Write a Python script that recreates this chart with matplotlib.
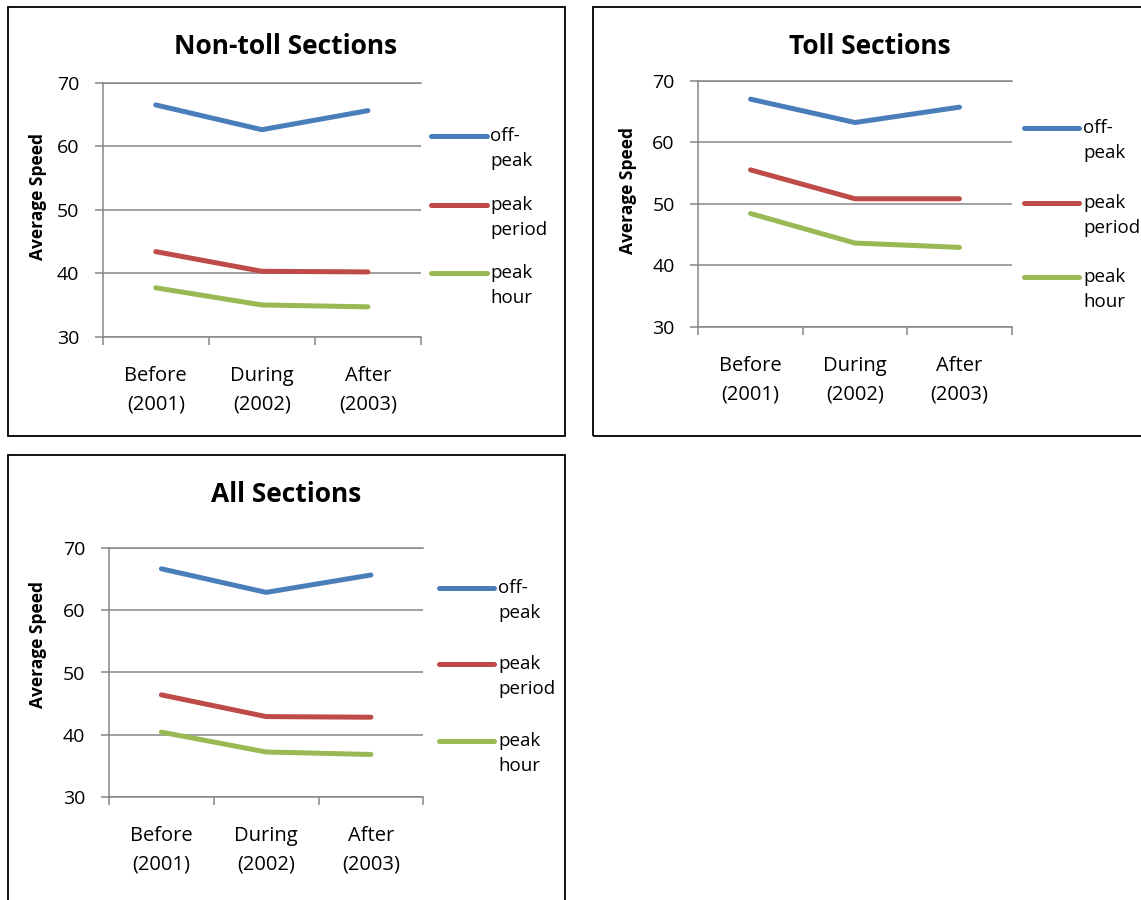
import matplotlib
matplotlib.use("Agg")
import matplotlib.pyplot as plt
from matplotlib.lines import Line2D
from matplotlib.patches import Rectangle

# chart data (average speed, mph)
periods = ["Before\n(2001)", "During\n(2002)", "After\n(2003)"]
series_names = ["off-\npeak", "peak\nperiod", "peak\nhour"]
series_colors = ["#4A7EBB", "#BE4B48", "#98B954"]
y_ticks = [30, 40, 50, 60, 70]

nontoll_offpeak = [66.5, 62.6, 65.6]
nontoll_peak_period = [43.4, 40.3, 40.2]
nontoll_peak_hour = [37.7, 35.0, 34.7]

toll_offpeak = [67.0, 63.2, 65.7]
toll_peak_period = [55.5, 50.8, 50.8]
toll_peak_hour = [48.4, 43.6, 42.9]

all_offpeak = [66.7, 62.9, 65.7]
all_peak_period = [46.4, 42.9, 42.8]
all_peak_hour = [40.4, 37.2, 36.8]

W, H = 1141, 900
GRAY = "#868686"
plt.rcParams['font.family'] = ['Open Sans', 'DejaVu Sans']


def fx(x):
    return x / W


def fy(y):
    return 1 - y / H


# layout in pixels: box, plot area, title, y label, legend
panels = [
    dict(title="Non-toll Sections",
         series=[nontoll_offpeak, nontoll_peak_period, nontoll_peak_hour],
         box=(7.5, 6.5, 565, 436), plot=(102.7, 82.7, 421, 336.7),
         title_xy=(286, 46), ylabel_xy=(38, 196),
         leg_x=(431, 487, 490), leg_y=(136, 205, 273)),
    dict(title="Toll Sections",
         series=[toll_offpeak, toll_peak_period, toll_peak_hour],
         box=(593, 6.5, 1160, 436), plot=(698.3, 80.7, 1011.7, 326.7),
         title_xy=(870, 46), ylabel_xy=(628, 190),
         leg_x=(1024, 1079, 1083), leg_y=(128, 203, 277)),
    dict(title="All Sections",
         series=[all_offpeak, all_peak_period, all_peak_hour],
         box=(7.5, 455, 565, 920), plot=(109, 548.3, 423.3, 796.7),
         title_xy=(286, 494), ylabel_xy=(38, 645),
         leg_x=(439, 494, 498), leg_y=(588, 664, 741)),
]

fig = plt.figure(figsize=(W / 100, H / 100), dpi=100)

for p in panels:
    # panel frame
    bx0, by0, bx1, by1 = p["box"]
    fig.add_artist(Rectangle((fx(bx0), fy(by1)), fx(bx1 - bx0), (by1 - by0) / H,
                             transform=fig.transFigure, fill=False,
                             edgecolor="black", linewidth=1.3, clip_on=False))

    x0, y0, x1, y1 = p["plot"]
    ax = fig.add_axes([fx(x0), fy(y1), fx(x1 - x0), (y1 - y0) / H])
    xs = range(1, len(periods) + 1)
    for vals, c in zip(p["series"], series_colors):
        ax.plot(xs, vals, color=c, lw=3.6, solid_capstyle="round",
                solid_joinstyle="round")

    ax.set_xlim(0.5, 3.5)
    ax.set_ylim(30, 70)
    ax.set_yticks(y_ticks)
    ax.set_xticks([0.5, 1.5, 2.5, 3.5])
    ax.set_xticklabels([])
    ax.set_xticks(list(xs), minor=True)
    ax.set_xticklabels(periods, minor=True, fontsize=14.5, linespacing=1.55)
    ax.tick_params(axis="x", which="minor", length=0, pad=21)
    ax.tick_params(axis="both", which="major", direction="out", length=6,
                   width=1.1, color=GRAY, labelsize=14)
    ax.tick_params(axis="y", pad=11)
    ax.yaxis.grid(True, color=GRAY, lw=1.1)
    ax.set_axisbelow(True)
    ax.spines["right"].set_visible(False)
    for s in ["left", "bottom", "top"]:
        ax.spines[s].set_color(GRAY)
        ax.spines[s].set_linewidth(1.1)

    fig.text(fx(p["title_xy"][0]), fy(p["title_xy"][1]), p["title"],
             ha="center", va="center", fontsize=19, fontweight="bold")
    fig.text(fx(p["ylabel_xy"][0]), fy(p["ylabel_xy"][1]), "Average Speed",
             ha="center", va="center", rotation=90, fontsize=12.5,
             fontweight="bold")

    # legend on the right of the plot
    lx0, lx1, tx = p["leg_x"]
    for name, c, ly in zip(series_names, series_colors, p["leg_y"]):
        fig.add_artist(Line2D([fx(lx0), fx(lx1)], [fy(ly), fy(ly)],
                              transform=fig.transFigure, color=c, lw=3.6,
                              solid_capstyle="round"))
        fig.text(fx(tx), fy(ly + 12.5), name, ha="left", va="center",
                 fontsize=13.5, linespacing=1.45)

fig.savefig("out.png", dpi=100)
